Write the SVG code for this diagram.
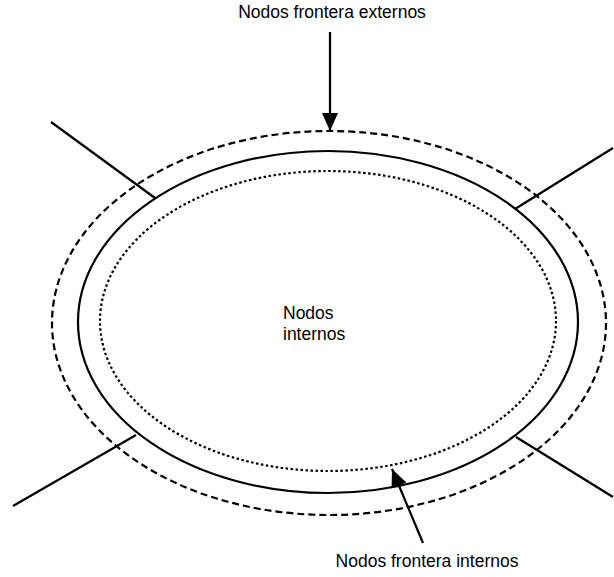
<svg xmlns="http://www.w3.org/2000/svg" width="614" height="577" viewBox="0 0 614 577">
<style>
.t{font-family:"Liberation Sans",Arial,sans-serif;font-size:17.5px;fill:#000}
.ln{stroke:#000;stroke-width:2.2;fill:none}
</style>
<defs>
<marker id="ah2" markerWidth="18" markerHeight="18" refX="18" refY="9" orient="auto" markerUnits="userSpaceOnUse" viewBox="0 0 18 18">
<path d="M0,1 L18,9 L0,17 Z" fill="#000"/>
</marker>
</defs>
<rect width="614" height="577" fill="#fff"/>
<g id="outer-boundary">
<ellipse cx="329" cy="323" rx="277" ry="192" class="ln" stroke-dasharray="7,4"/>
</g>
<g id="boundary">
<ellipse cx="328" cy="322" rx="250" ry="171" class="ln"/>
</g>
<g id="inner-boundary">
<ellipse cx="328" cy="321" rx="228" ry="150" class="ln" stroke-dasharray="2.5,2.5"/>
</g>
<g id="connectors">
<line x1="51" y1="122" x2="155" y2="198" class="ln"/>
<line x1="613" y1="148" x2="515" y2="209" class="ln"/>
<line x1="13" y1="506" x2="136" y2="435" class="ln"/>
<line x1="516" y1="437" x2="613" y2="497" class="ln"/>
<line x1="330" y1="32" x2="330" y2="131" class="ln" marker-end="url(#ah2)"/>
<line x1="423" y1="543" x2="392" y2="469" class="ln" marker-end="url(#ah2)"/>
</g>
<g id="label-externos">
<text class="t" x="332" y="18" text-anchor="middle">Nodos frontera externos</text>
</g>
<g id="label-internos-centro">
<text class="t" x="283" y="319">Nodos</text>
<text class="t" x="283" y="340">internos</text>
</g>
<g id="label-frontera-internos">
<text class="t" x="427" y="567" text-anchor="middle">Nodos frontera internos</text>
</g>
</svg>
